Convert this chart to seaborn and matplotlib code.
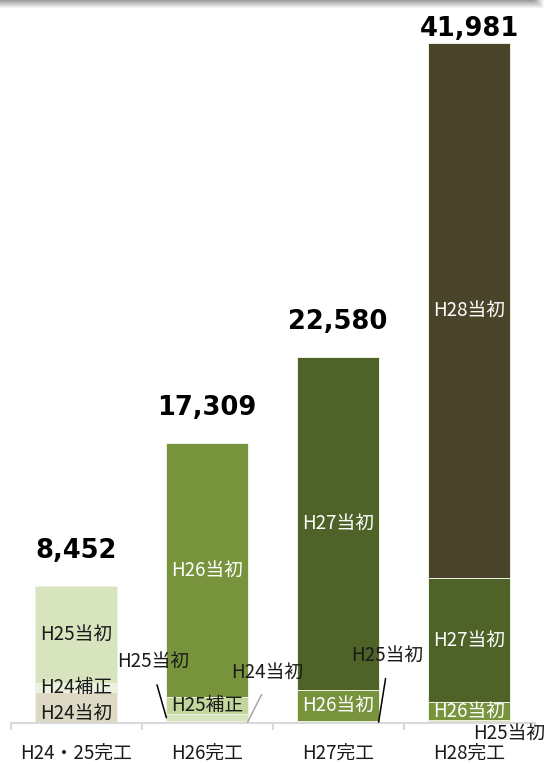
import numpy as np
import pandas as pd
import seaborn as sns
import matplotlib.pyplot as plt

# 工期ごとの事業費（積み上げ、下から順）
categories = ['H24・25完工', 'H26完工', 'H27完工', 'H28完工']
segments = ['H24当初', 'H24補正', 'H25当初', 'H25補正', 'H26当初', 'H27当初', 'H28当初']
h24_initial = [1910, 100, 0, 0]
h24_supp = [560, 0, 0, 0]
h25_initial = [5982, 450, 100, 200]
h25_supp = [0, 1050, 0, 0]
h26_initial = [0, 15709, 1950, 1100]
h27_initial = [0, 0, 20530, 7650]
h28_initial = [0, 0, 0, 33031]

colors = {
    'H24当初': '#ddd9c4',
    'H24補正': '#ebf1de',
    'H25当初': '#d7e4bd',
    'H25補正': '#c3d69b',
    'H26当初': '#77933c',
    'H27当初': '#4f6228',
    'H28当初': '#4a452a',
}
white_text = {'H26当初', 'H27当初', 'H28当初'}

values = np.array([h24_initial, h24_supp, h25_initial, h25_supp,
                   h26_initial, h27_initial, h28_initial])
tops = values.cumsum(axis=0)
totals = values.sum(axis=0)

df = pd.DataFrame({
    '工期': np.tile(categories, len(segments)),
    '区分': np.repeat(segments, len(categories)),
    '金額': values.ravel(),
    'top': tops.ravel(),
})
df['mid'] = df['top'] - df['金額'] / 2
df = df[df['金額'] > 0]

sns.set_style('white')
plt.rcParams['font.family'] = ['Noto Sans CJK JP', 'DejaVu Sans']

W, H = 547, 764
fig = plt.figure(figsize=(W / 100, H / 100), dpi=100)
ax = fig.add_axes([10.5 / W, 41 / H, 524 / W, 723 / H])

bar_w = 0.62
# 上の区分から描いて下の区分を重ねる
for seg in reversed(segments):
    sub = df[df['区分'] == seg]
    if sub.empty:
        continue
    sns.barplot(data=sub, x='工期', y='top', order=categories, color=colors[seg],
                saturation=1, width=bar_w, errorbar=None, edgecolor='#eef2e4',
                linewidth=0.7, ax=ax)

ax.set_xlim(-0.5, 3.5)
ax.set_ylim(0, 723 / 0.0162)

# 棒の中のラベル
nudge = {('H24・25完工', 'H24当初'): -6}
for _, r in df.iterrows():
    if r['金額'] < 500:
        continue
    i = categories.index(r['工期'])
    dy = nudge.get((r['工期'], r['区分']), 0)
    ax.annotate(r['区分'], xy=(i, r['mid']), xytext=(0, dy), textcoords='offset pixels',
                ha='center', va='center', fontsize=13.5,
                color='white' if r['区分'] in white_text else '#1a1a1a')

# 棒の外のラベル（引き出し線つき）
callouts = [
    ('H26完工', 'H25当初', -1, (-13, 56), 'black'),
    ('H26完工', 'H24当初', 1, (20, 50), '#a6a6a6'),
    ('H27完工', 'H25当初', 1, (9, 67), 'black'),
    ('H28完工', 'H25当初', 1, (0, -12), None),
]
for cat, seg, side, off, lc in callouts:
    r = df[(df['工期'] == cat) & (df['区分'] == seg)].iloc[0]
    i = categories.index(cat)
    arrow = None
    if lc:
        arrow = dict(arrowstyle='-', color=lc, lw=1.1, shrinkA=7, shrinkB=0,
                     relpos=(0.5, 0))
    ax.annotate(seg, xy=(i + side * bar_w / 2, r['mid']), xytext=off,
                textcoords='offset pixels', ha='center', va='center',
                fontsize=13.5, color='#1a1a1a', arrowprops=arrow,
                annotation_clip=False)

# 合計値（一番高い棒は上端に詰めて表示）
total_gap = [28, 28, 28, 7]
for i, t in enumerate(totals):
    ax.annotate(f'{t:,}', xy=(i, t), xytext=(0, total_gap[i]), textcoords='offset pixels',
                ha='center', va='baseline', fontsize=18.5, fontweight='bold',
                family='DejaVu Sans', color='black')

# 軸
for s in ['top', 'left', 'right']:
    ax.spines[s].set_visible(False)
ax.spines['bottom'].set_color('#d9d9d9')
ax.spines['bottom'].set_linewidth(1.5)
ax.set_yticks([])
ax.set_xlabel('')
ax.set_ylabel('')
ax.set_xticks(range(len(categories)))
ax.set_xticklabels(categories, fontsize=13.5, color='#1a1a1a')
ax.set_xticks(np.arange(-0.5, len(categories)), minor=True)
ax.tick_params(axis='x', which='major', length=0, pad=14)
ax.tick_params(axis='x', which='minor', length=5, width=1.5, color='#d9d9d9',
               direction='out', bottom=True)

# 上端の影
sh = fig.add_axes([0, 1 - 9 / H, 545 / W, 9 / H])
grad = np.linspace(0.62, 1.0, 9)[:, None] * np.ones((1, 545))
grad[:, -12:] = np.maximum(grad[:, -12:], np.linspace(0.62, 1.0, 12)[None, :])
sh.imshow(grad, cmap='gray', vmin=0, vmax=1, aspect='auto', interpolation='bilinear')
sh.axis('off')

fig.savefig('out.png', dpi=100)
